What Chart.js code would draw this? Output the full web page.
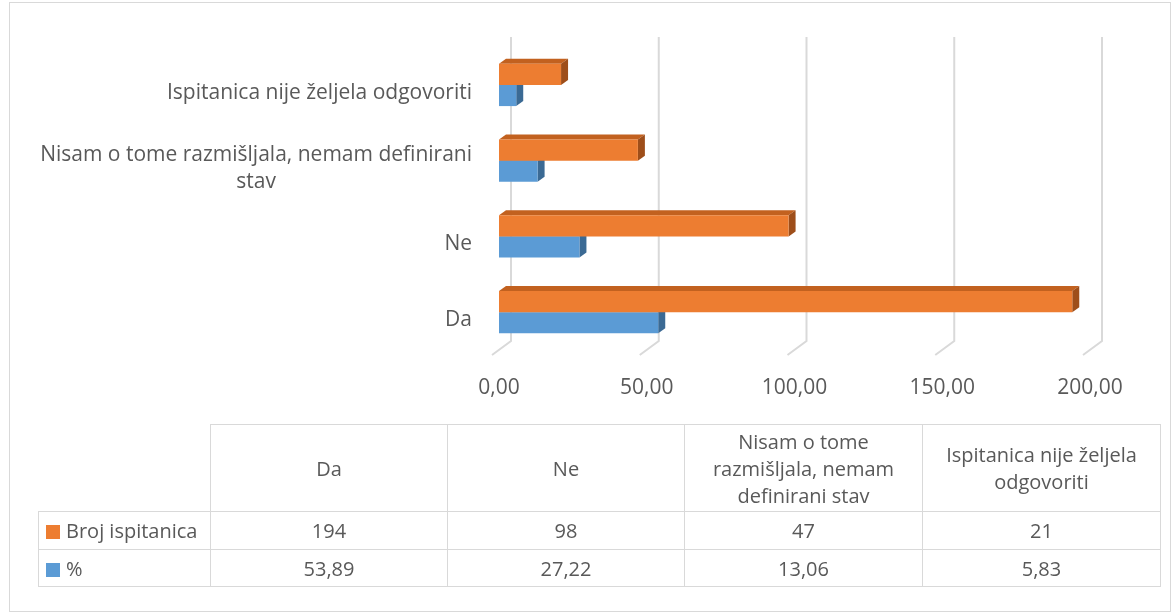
<!DOCTYPE html>
<html>
<head>
<meta charset="utf-8">
<script src="https://cdn.jsdelivr.net/npm/chart.js@4.4.1/dist/chart.umd.min.js"></script>
<style>
  html, body { margin: 0; padding: 0; background: #fff; }
  #wrap { position: relative; width: 1175px; height: 614px; overflow: hidden; }
  #okvir { position: absolute; left: 9px; top: 2px; width: 1162px; height: 610px; border: 1px solid #d9d9d9; box-sizing: border-box; }
  #grafikon { position: absolute; left: 0; top: 0; }
  #tablica { position: absolute; left: 38px; top: 424px; border-collapse: collapse; table-layout: fixed;
             font-family: "Open Sans", Lato, sans-serif; font-size: 20px; color: #595959; }
  #tablica td { border: 1px solid #d9d9d9; text-align: center; padding: 0; line-height: 27px; }
  #tablica td.prazno { border: none; }
  #tablica td.naziv { text-align: left; padding-left: 7px; white-space: nowrap; }
  .kvadrat { display: inline-block; width: 14px; height: 14px; margin-right: 6px; vertical-align: -1px; }
</style>
</head>
<body>
<div id="wrap">
  <div id="okvir"></div>
  <canvas id="grafikon" width="1175" height="614"></canvas>
  <table id="tablica"></table>
</div>
<script>
// podaci
const kategorije = ["Da", "Ne", "Nisam o tome razmišljala, nemam definirani stav", "Ispitanica nije željela odgovoriti"];
const kategorijeTablica = ["Da", "Ne", "Nisam o tome<br>razmišljala, nemam<br>definirani stav", "Ispitanica nije željela<br>odgovoriti"];
const nazivSerija = ["Broj ispitanica", "%"];
const brojIspitanica = [194, 98, 47, 21];
const postotak = [53.89, 27.22, 13.06, 5.83];
const xOznake = [0, 50, 100, 150, 200];

const boje = ["#ED7D31", "#5B9BD5"];
const bojeVrh = ["#C2611F", "#4D86BB"];
const bojeBok = ["#9E4E1A", "#3B6A94"];
const FONT = "'Open Sans', Lato, sans-serif";
const DX = 7, DY = -5;

const fmt = (v, d) => v.toFixed(d).replace(".", ",");

// 3D dubina, mreza i oznake kategorija
const efekt3d = {
    id: "efekt3d",
    beforeDatasetsDraw(chart) {
        const ctx = chart.ctx;
        const xs = chart.scales.x;
        const area = chart.chartArea;
        ctx.save();
        ctx.strokeStyle = "#d9d9d9";
        ctx.lineWidth = 2;
        xOznake.forEach(v => {
            const px = xs.getPixelForValue(v);
            ctx.beginPath();
            ctx.moveTo(px + 12, 37);
            ctx.lineTo(px + 12, area.bottom - 9);
            ctx.lineTo(px - 7, area.bottom + 5);
            ctx.stroke();
        });
        chart.data.datasets.forEach((ds, di) => {
            const meta = chart.getDatasetMeta(di);
            meta.data.forEach(el => {
                const l = el.base, r = el.x;
                const t = el.y - el.height / 2, b = el.y + el.height / 2;
                ctx.fillStyle = bojeVrh[di];
                ctx.beginPath();
                ctx.moveTo(l, t); ctx.lineTo(l + DX, t + DY); ctx.lineTo(r + DX, t + DY); ctx.lineTo(r, t);
                ctx.closePath(); ctx.fill();
                ctx.fillStyle = bojeBok[di];
                ctx.beginPath();
                ctx.moveTo(r, t); ctx.lineTo(r + DX, t + DY); ctx.lineTo(r + DX, b + DY); ctx.lineTo(r, b);
                ctx.closePath(); ctx.fill();
            });
        });
        ctx.restore();
    },
    afterDraw(chart) {
        const ctx = chart.ctx;
        const ys = chart.scales.y;
        const desno = 472, maxW = 445, lh = 27;
        ctx.save();
        ctx.font = "21px " + FONT;
        ctx.fillStyle = "#595959";
        ctx.textBaseline = "middle";
        kategorije.forEach((k, i) => {
            const rijeci = k.split(" ");
            const linije = [];
            let cur = "";
            rijeci.forEach(w => {
                const test = cur ? cur + " " + w : w;
                if (ctx.measureText(test).width > maxW && cur) { linije.push(cur); cur = w; }
                else cur = test;
            });
            linije.push(cur);
            const sirina = Math.max(...linije.map(s => ctx.measureText(s).width));
            const cy = ys.getPixelForValue(i) + 8;
            const y0 = cy - (linije.length - 1) * lh / 2;
            linije.forEach((s, j) => {
                if (linije.length === 1) {
                    ctx.textAlign = "right";
                    ctx.fillText(s, desno, y0);
                } else {
                    ctx.textAlign = "center";
                    ctx.fillText(s, desno - sirina / 2, y0 + j * lh);
                }
            });
        });
        ctx.restore();
    }
};

new Chart(document.getElementById("grafikon"), {
    type: "bar",
    data: {
        labels: kategorije,
        datasets: [
            { label: nazivSerija[0], data: brojIspitanica, backgroundColor: boje[0] },
            { label: nazivSerija[1], data: postotak, backgroundColor: boje[1] }
        ]
    },
    options: {
        indexAxis: "y",
        responsive: false,
        animation: false,
        layout: { padding: { left: 499, right: 85, top: 47, bottom: 204 } },
        categoryPercentage: 0.56,
        barPercentage: 1,
        scales: {
            y: { display: false, reverse: true },
            x: {
                min: 0, max: 200,
                afterBuildTicks: s => { s.ticks = xOznake.map(v => ({ value: v })); },
                grid: { display: false },
                border: { display: false },
                afterFit: s => { s.height = 60; },
                ticks: {
                    padding: 17,
                    color: "#595959",
                    font: { family: FONT, size: 21 },
                    callback: v => fmt(v, 2)
                }
            }
        },
        plugins: { legend: { display: false }, tooltip: { enabled: false } }
    },
    plugins: [efekt3d]
});

// tablica podataka
const tablica = document.getElementById("tablica");
const sirine = [172, 237, 237, 238, 238];
let html = "<colgroup>" + sirine.map(w => `<col style="width:${w}px">`).join("") + "</colgroup>";
html += `<tr style="height:87px"><td class="prazno"></td>` + kategorijeTablica.map(k => `<td>${k}</td>`).join("") + "</tr>";
const redovi = [brojIspitanica.map(v => String(v)), postotak.map(v => fmt(v, 2))];
const visine = [38, 37];
redovi.forEach((red, i) => {
    html += `<tr style="height:${visine[i]}px"><td class="naziv"><span class="kvadrat" style="background:${boje[i]}"></span>${nazivSerija[i]}</td>`
        + red.map(v => `<td>${v}</td>`).join("") + "</tr>";
});
tablica.innerHTML = html;
</script>
</body>
</html>
